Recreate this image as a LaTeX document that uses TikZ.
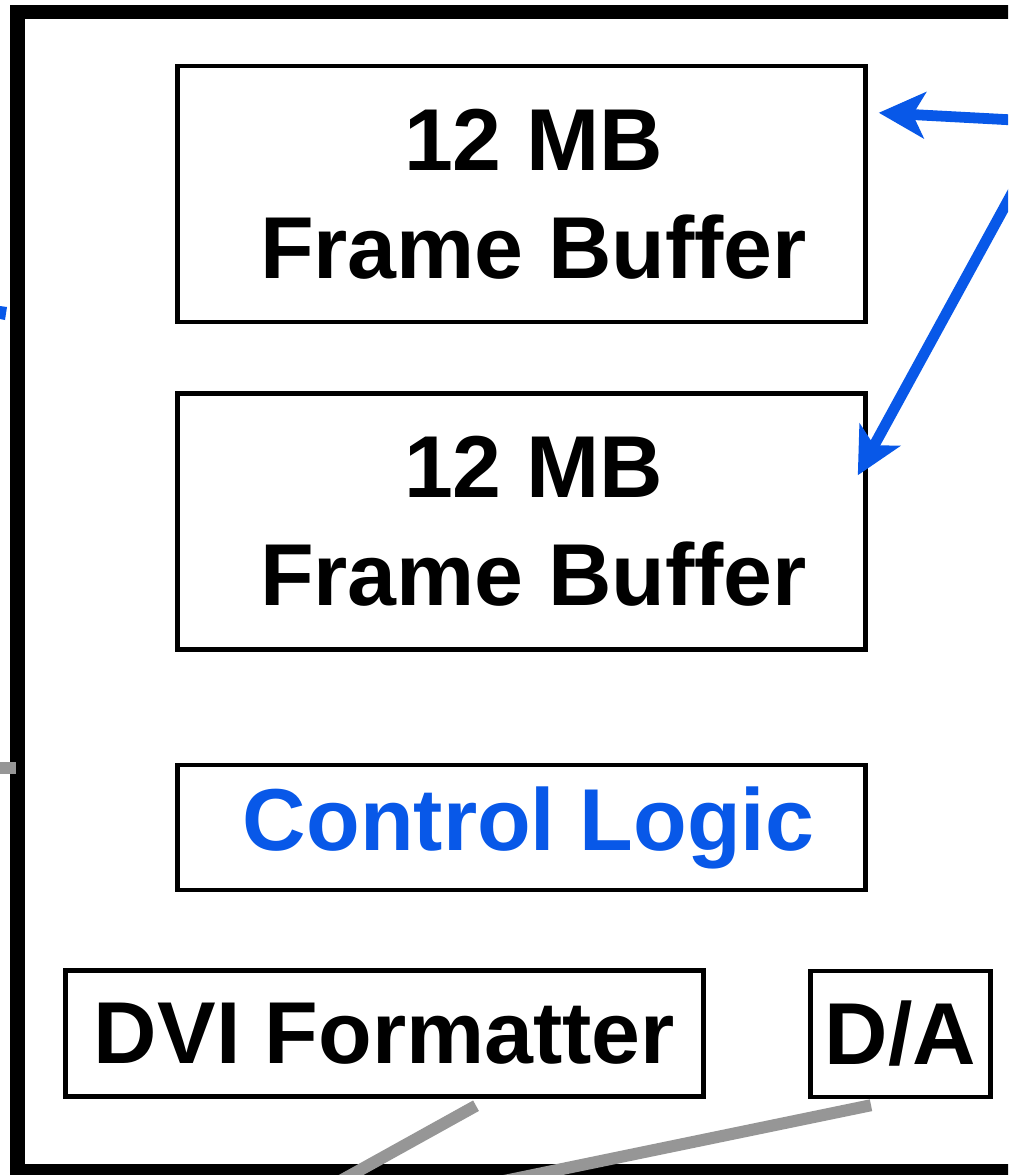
\documentclass[tikz,border=0pt]{standalone}
\usepackage{fontspec}
\setmainfont{Liberation Sans}
\usetikzlibrary{arrows.meta,calc}

\definecolor{linkblue}{RGB}{8,88,232}
\definecolor{wiregray}{RGB}{150,150,150}

\begin{document}
\begin{tikzpicture}[
  x=0.025cm,y=-0.025cm,
  unit/.style={draw=black,line width=0.11cm,inner sep=0pt,align=center,
    font=\bfseries\fontsize{62.5}{77}\selectfont},
  buffer/.style={unit,minimum width=17.2cm,minimum height=6.4cm},
  logic/.style={unit,minimum width=17.2cm,minimum height=3.125cm,text=linkblue},
  outstage/.style={unit,minimum height=3.15cm},
  board/.style={draw=black,line width=0.35cm},
  bus/.style={draw=linkblue,line width=0.27cm,
    -{Stealth[length=1.15cm,width=1.15cm,inset=0.3cm]}},
  wire/.style={draw=wiregray,line width=0.3cm}
]
\useasboundingbox (0,0) rectangle (1008,1175);
\clip (0,0) rectangle (1008,1175);
\fill[white] (0,0) rectangle (1008,1175);

% board outline, runs past the right edge
\draw[board] (17.5,12.5) rectangle (1080,1171);

\node[buffer] (fbtop) at (521.5,194)
  {\hspace*{0.6cm}12 MB\\\hspace*{0.6cm}Frame Buffer};
\node[buffer] (fbbot) at (521.5,521.5)
  {\hspace*{0.6cm}12 MB\\\hspace*{0.6cm}Frame Buffer};
\node[logic] (control) at (521.5,827.5) {\hspace*{0.35cm}Control Logic};
\node[outstage,minimum width=15.95cm] (dvi) at (384.5,1033.5) {DVI Formatter};
\node[outstage,minimum width=4.5cm] (dac) at (900.5,1034) {D/A};

% links coming in from outside the crop
\coordinate (hostbus) at (1051,122);
\draw[bus] (hostbus) -- ($(fbtop.north east)+(11,49)$);
\draw[bus] (hostbus) -- ($(fbbot.north east)+(-10,84)$);
\fill[linkblue] (0,306) -- (7,307) -- (5,320) -- (0,319) -- cycle;

\coordinate (hostfar) at (-40,768);
\coordinate (hostlink) at (16,768);
\draw[wire] (hostfar) -- (hostlink);

\coordinate (dviout) at (306,1200);
\coordinate (dacout) at (412,1200);
\draw[wire] ($(dvi.south)+(91.5,7)$) -- (dviout);
\draw[wire] ($(dac.south)+(-29.5,6)$) -- (dacout);
\end{tikzpicture}
\end{document}
